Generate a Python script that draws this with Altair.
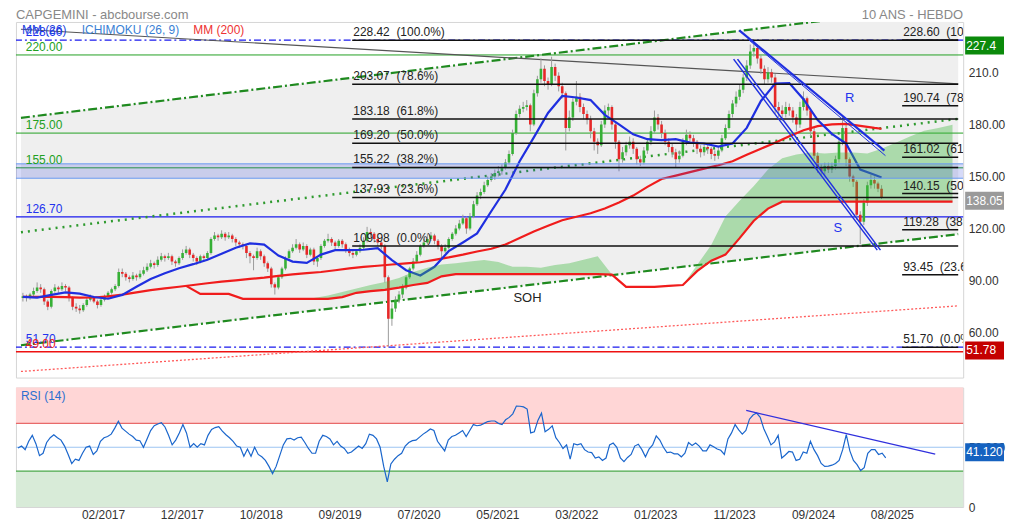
import json
import altair as alt
import pandas as pd

# ---------------- data ----------------
START = pd.Timestamp("2016-03-21")   # first bi-weekly candle
STEP_DAYS = 14

first_open = 80
close = [
    81, 80, 82, 84, 86, 85, 78, 75, 84, 86,
    85, 87, 86, 80, 75, 74, 73, 76, 79, 80,
    78, 76, 79, 81, 83, 85, 87, 95, 94, 92,
    91, 93, 92, 94, 96, 98, 100, 99, 102, 104,
    103, 104, 101, 100, 103, 106, 108, 105, 103, 101,
    104, 103, 106, 114, 116, 115, 117, 115, 116, 114,
    112, 111, 110, 106, 104, 103, 107, 104, 100, 97,
    88, 86, 92, 97, 103, 107, 109, 111, 108, 110,
    105, 108, 101, 103, 110, 113, 114, 112, 110, 113,
    111, 108, 106, 105, 107, 109, 113, 118, 117, 114,
    112, 110, 92, 68, 74, 79, 82, 86, 92, 97,
    101, 105, 110, 112, 114, 116, 113, 110, 107, 109,
    114, 117, 120, 123, 126, 120, 127, 134, 139, 141,
    145, 148, 150, 152, 153, 155, 158, 163, 175, 186,
    189, 190, 191, 180, 198, 206, 212, 205, 203, 213,
    208, 202, 198, 178, 184, 193, 196, 190, 186, 183,
    176, 170, 168, 180, 188, 190, 180, 170, 160, 164,
    168, 170, 166, 160, 158, 165, 170, 176, 184, 180,
    175, 170, 167, 164, 160, 162, 170, 174, 172, 170,
    166, 164, 167, 166, 163, 162, 165, 172, 178, 186,
    192, 196, 200, 207, 214, 222, 224, 218, 212, 206,
    210, 207, 190, 188, 186, 190, 188, 184, 180, 190,
    195, 188, 176, 162, 155, 153, 156, 154, 156, 160,
    170, 178, 160, 150, 147, 128, 124, 135, 145, 148,
    146, 143, 138.05,
]
high = [
    83, 82, 83, 86, 89, 88, 86, 79, 85, 88,
    87, 89, 88, 87, 81, 77, 76, 77, 80, 82,
    81, 79, 80, 82, 84, 86, 88, 97, 97, 95,
    93, 95, 94, 96, 98, 100, 102, 101, 104, 106,
    105, 106, 105, 102, 104, 108, 110, 109, 106, 104,
    105, 105, 107, 115, 118, 117, 119, 118, 118, 117,
    115, 113, 112, 111, 107, 105, 109, 108, 105, 101,
    98, 89, 93, 98, 104, 108, 111, 114, 112, 112,
    111, 109, 109, 104, 111, 114, 117, 115, 113, 114,
    114, 112, 109, 107, 108, 111, 115, 121, 120, 118,
    115, 113, 111, 93, 77, 81, 84, 88, 93, 98,
    103, 107, 111, 114, 117, 118, 117, 114, 111, 111,
    115, 118, 122, 125, 128, 127, 129, 136, 141, 143,
    147, 150, 152, 154, 156, 157, 160, 165, 177, 188,
    191, 193, 194, 192, 200, 208, 218, 214, 207, 219,
    215, 210, 204, 199, 188, 195, 205, 198, 192, 188,
    185, 178, 172, 182, 191, 192, 191, 182, 171, 167,
    170, 173, 172, 167, 162, 167, 172, 179, 188, 186,
    182, 177, 172, 169, 166, 165, 172, 177, 176, 174,
    171, 168, 169, 169, 167, 165, 167, 174, 180, 188,
    194, 199, 203, 209, 217, 226, 229, 226, 220, 214,
    213, 212, 209, 193, 191, 193, 192, 190, 186, 193,
    199, 196, 189, 178, 164, 157, 158, 158, 158, 162,
    172, 185, 180, 161, 151, 148, 130, 137, 147, 151,
    150, 147, 145,
]
low = [
    78, 78, 79, 81, 83, 83, 76, 73, 74, 83,
    83, 84, 84, 78, 73, 72, 71, 72, 75, 78,
    77, 74, 75, 78, 80, 82, 84, 86, 92, 90,
    89, 90, 90, 91, 93, 95, 97, 97, 98, 101,
    101, 102, 99, 98, 99, 102, 105, 103, 101, 99,
    100, 101, 102, 105, 113, 113, 114, 113, 114, 112,
    110, 109, 108, 103, 100, 96, 102, 102, 98, 95,
    86, 82, 85, 91, 96, 102, 106, 108, 106, 107,
    103, 104, 99, 98, 102, 109, 112, 110, 108, 109,
    109, 106, 104, 103, 104, 106, 108, 112, 115, 112,
    110, 108, 89, 52, 64, 72, 77, 80, 85, 91,
    96, 100, 104, 109, 111, 113, 111, 108, 102, 106,
    108, 113, 116, 119, 122, 117, 119, 126, 133, 137,
    140, 144, 147, 148, 150, 151, 154, 157, 162, 174,
    184, 187, 188, 176, 179, 196, 204, 202, 200, 202,
    205, 199, 195, 165, 176, 182, 191, 187, 183, 180,
    172, 165, 163, 167, 178, 185, 177, 166, 153, 158,
    162, 166, 163, 157, 156, 157, 163, 168, 175, 177,
    172, 168, 164, 161, 155, 158, 161, 168, 169, 167,
    163, 161, 162, 163, 160, 159, 160, 164, 171, 177,
    184, 190, 194, 198, 205, 212, 219, 215, 209, 203,
    204, 204, 186, 184, 182, 184, 185, 181, 176, 178,
    188, 185, 173, 160, 152, 150, 151, 152, 152, 154,
    158, 168, 156, 147, 144, 125, 111, 122, 133, 143,
    143, 141, 137,
]
rsi = [
    49.4, 51, 48, 55, 60, 53, 43, 45, 54, 58,
    60.5, 58, 56, 51, 44, 36.4, 40, 39, 45, 50,
    51, 44, 47, 55, 58, 59, 61, 66, 71.7, 66,
    63.5, 61, 59, 56, 55.5, 50, 57, 64, 68, 69.5,
    70.5, 67, 60, 52, 56, 62, 69, 62, 50, 53,
    50, 53, 52, 60, 65, 66.5, 67.3, 63.5, 60.5, 58,
    55, 51, 50, 42.5, 48.5, 42.5, 50, 44, 42, 39,
    34, 28, 34, 43, 52, 57, 57.5, 56, 58, 58.5,
    54, 49, 45, 45, 55, 60, 59, 57, 52, 55,
    51, 49, 45, 46, 48.5, 51, 49, 53, 61, 60,
    57, 50, 34, 21, 36, 40, 43, 45, 51, 54,
    55.5, 56, 58.5, 61, 63, 65.3, 64, 55, 51, 47,
    56, 59, 60, 62, 64, 59, 64, 69, 68, 68.5,
    70, 71.5, 72, 72, 70, 69, 73, 75, 78, 84.5,
    84.3, 83.8, 82, 62, 63, 72.5, 78.5, 63, 65, 68,
    58, 54, 49, 52, 40, 53, 52, 53, 48, 46,
    45.5, 41, 42, 39, 41, 52, 53.5, 50, 41, 38,
    41.5, 44, 51, 52.5, 48, 42, 48.5, 52, 59.5, 56,
    50, 45.5, 46, 44.5, 44.5, 42, 45, 54, 51.5, 53.5,
    51, 47, 47, 52, 50.5, 48.5, 47.5, 44, 57, 62,
    69, 64.5, 61, 64, 73.5, 77, 78.6, 75, 65.5, 59,
    52, 54.5, 60, 41, 43.5, 46.5, 46, 39, 40, 46,
    45, 55, 48, 43, 36.5, 34, 34.2, 35, 36.4, 39,
    48, 60.5, 47, 39, 35.5, 30.5, 33, 45, 48, 48,
    44, 45, 41.12,
]
# moving averages, sampled every 4th candle (+ last candle)
mm_idx = list(range(0, 241, 4)) + [242]
mm26 = [
    80.7, 80.2, 81.8, 83.2, 82.5, 80.6, 79.6, 81.8, 86.5, 91,
    94.3, 97.2, 99.5, 102, 105.5, 109, 111.5, 110.8, 104.5, 101,
    100.2, 105, 107.6, 107.6, 107.8, 108.7, 101.8, 96, 93, 98,
    107, 112, 117.2, 130, 142.5, 158.8, 172.5, 186.6, 196.4, 195.5,
    194, 185.5, 180, 174.3, 171.5, 171, 171.5, 169.5, 169, 167.2,
    169, 178, 193.5, 203.5, 203.8, 194.5, 182.5, 174.6, 169, 154,
    151, 149.4,
]
mm200 = [
    80.7, 80.7, 80.7, 80.5, 80.2, 80.3, 81, 82, 83.3, 84.6,
    85.6, 86.5, 87.5, 88.5, 89.5, 90.2, 91, 91.8, 92.8, 93.6,
    94.3, 95, 96, 97.1, 97.9, 98.6, 99.3, 100, 100.6, 102,
    103.4, 105, 106.8, 108.4, 110.8, 114.6, 118.3, 121.6, 124.8, 126.8,
    128.8, 131.6, 135, 139, 144, 148.6, 150.5, 152.5, 154.5, 156.5,
    158.8, 162.5, 166, 169.5, 173.2, 176.6, 179, 180, 180.3, 179.2,
    178, 177.5,
]
# Ichimoku cloud, sampled every 4th period from candle 46 (projected forward)
cloud_idx = list(range(46, 263, 4))
ssa = [
    87, 82.4, 82.4, 82.4, 79.5, 79.5, 79.5, 79.5, 79.5, 80,
    81.5, 83.5, 85.5, 87.5, 89.3, 91.5, 95, 97.5, 99.3, 100,
    101, 101.9, 100.8, 98, 98, 97.5, 99, 100, 102, 104,
    93.5, 86.4, 86.4, 86.4, 87, 87.5, 99, 110.5, 127, 136,
    144.5, 154, 160.5, 162.6, 163.8, 163.3, 163.8, 163.8, 163.3, 166,
    169.5, 173, 176.4, 178, 179.8,
]
ssb = [
    87, 82.4, 82.4, 82.4, 79.5, 79.5, 79.5, 79.5, 79.5, 79.5,
    79.5, 80.5, 83, 84, 84.7, 86, 87.5, 88.7, 92.5, 93.8,
    93.8, 93.8, 93.8, 93.8, 93.8, 93.8, 93.8, 93.8, 93.8, 93.8,
    93.5, 86.4, 86.4, 86.4, 87, 87.5, 95.5, 101.5, 105, 114.5,
    124.5, 131.5, 135.5, 135.5, 135.5, 135.5, 135.5, 135.5, 135.5, 135.5,
    135.5, 135.5, 135.5, 135.5, 135.5,
]

fib1_levels = [228.42, 203.07, 183.18, 169.20, 155.22, 137.93, 109.98]
fib2_levels = [228.60, 190.74, 161.02, 140.15, 119.28, 93.45, 51.70]
fib_pcts = ["100.0%", "78.6%", "61.8%", "50.0%", "38.2%", "23.6%", "0.0%"]
fib1_start, fib2_start = 92.8, 247.8          # in candle periods

green_levels = [220.00, 175.00, 155.00]
blue_level = 126.70
blue_dash_levels = [228.60, 51.70]
red_level = 49.00
band = (149.0, 157.3)

# trend lines: (period0, price0, period1, price1)
I_LO, I_HI = -0.556, 263.6
trend = {
    "chan_up": (I_LO, 183.8, I_HI, 249.1),
    "chan_low": (I_LO, 52.8, I_HI, 116.8),
    "mid_dot": (I_LO, 117.9, I_HI, 183.2),
    "red_dot": (I_LO, 37.7, I_HI, 75.5),
    "black": (I_LO, 234.8, I_HI, 203.3),
    "R_thick": (201.9, 234.2, 242.8, 164.9),
    "R_thin": (204.7, 228.5, 243.1, 162.0),
    "S_a": (200.3, 217.6, 240.8, 107.6),
    "S_b": (201.4, 217.6, 241.7, 107.6),
}
rsi_trend = (203.1, 80.8, 255.8, 44.2)

tick_labels = ["02/2017", "12/2017", "10/2018", "09/2019", "07/2020", "05/2021",
               "03/2022", "01/2023", "11/2023", "09/2024", "08/2025"]
price_ticks = [60, 90, 120, 150, 180, 210]
boxes = [(227.4, "227.4", "#0b8a0b"), (138.05, "138.05", "#9a9a9a"), (51.78, "51.78", "#c40000")]

# ---------------- helpers ----------------
def ts(i):
    return int((START + pd.Timedelta(days=STEP_DAYS * i)).value // 10**6)

FONT = "Liberation Sans"
W, H, HR = 951, 357, 120
BOXW = 41
xscale = alt.Scale(domain=[ts(I_LO), ts(I_HI)])
yscale = alt.Scale(domain=[34.2, 239.0], nice=False, zero=False)
rscale = alt.Scale(domain=[0, 100], nice=False, zero=False)

YAX = alt.Axis(orient="right", values=price_ticks, ticks=False, domain=False, grid=False,
               labelExpr="datum.value == 210 ? '210.0' : format(datum.value, '.2f')",
               labelFontSize=12, labelColor="#333", labelFont=FONT, labelPadding=5, title=None)

def X(f="t"):
    return alt.X(f"{f}:T", scale=xscale, axis=None)

def Y(f="p"):
    return alt.Y(f"{f}:Q", scale=yscale, axis=YAX)

def seg(name):
    i0, p0, i1, p1 = trend[name]
    return pd.DataFrame({"t": [ts(i0), ts(i1)], "p": [p0, p1]})

def line_layer(df, color, width, dash=None, opacity=1.0):
    kw = dict(color=color, strokeWidth=width, clip=True, opacity=opacity)
    if dash:
        kw["strokeDash"] = dash
    return alt.Chart(df).mark_line(**kw).encode(x=X(), y=Y())

# ---------------- main panel ----------------
n = len(close)
opens = [first_open] + close[:-1]
candles = pd.DataFrame({"t": [ts(i) for i in range(n)], "o": opens, "h": high, "l": low, "c": close})

cu, cl = seg("chan_up"), seg("chan_low")
chan_bg = pd.DataFrame({"t": cu["t"], "p": cu["p"], "p2": cl["p"]})
bg = alt.Chart(chan_bg).mark_area(color="#efefef", clip=True).encode(x=X(), y=Y(), y2="p2:Q")

rules_green = alt.Chart(pd.DataFrame({"p": green_levels})).mark_rule(color="#22a022", strokeWidth=1).encode(y=Y())
rule_blue = alt.Chart(pd.DataFrame({"p": [blue_level]})).mark_rule(color="#1a1aee", strokeWidth=1.2).encode(y=Y())
rules_bdash = alt.Chart(pd.DataFrame({"p": blue_dash_levels})).mark_rule(
    color="#1a1aee", strokeWidth=1.2, strokeDash=[7, 3, 2, 3]).encode(y=Y())
rule_red = alt.Chart(pd.DataFrame({"p": [red_level]})).mark_rule(color="#ee1111", strokeWidth=1.5).encode(y=Y())

trend_layers = [
    line_layer(cu, "#1f8a1f", 2.2, [9, 3, 2, 3]),
    line_layer(cl, "#1f8a1f", 2.2, [9, 3, 2, 3]),
    line_layer(seg("mid_dot"), "#2e9a2e", 2.5, [2, 5]),
    line_layer(seg("red_dot"), "#ff5a5a", 1.3, [2, 2]),
    line_layer(seg("black"), "#555555", 1.2),
]

wicks = alt.Chart(candles).mark_rule(color="#9a9a9a", strokeWidth=1, clip=True).encode(
    x=X(), y=Y("l"), y2="h:Q")
bodies = alt.Chart(candles).mark_bar(width=2.6, clip=True).encode(
    x=X(), y=Y("o"), y2="c:Q",
    color=alt.condition("datum.c >= datum.o", alt.value("#36b036"), alt.value("#e62828")))

mm_df = pd.DataFrame({"t": [ts(i) for i in mm_idx], "m26": mm26, "m200": mm200})
mm200_l = alt.Chart(mm_df).mark_line(color="#f01c1c", strokeWidth=2.2, clip=True).encode(x=X(), y=Y("m200"))
mm26_l = alt.Chart(mm_df).mark_line(color="#1f2fe0", strokeWidth=2.2, clip=True).encode(x=X(), y=Y("m26"))

cl_df = pd.DataFrame({"t": [ts(i) for i in cloud_idx], "a": ssa, "b": ssb})
cl_df["top"] = cl_df[["a", "b"]].max(axis=1)
cloud = alt.Chart(cl_df).mark_area(color="#3cb83c", opacity=0.38, clip=True).encode(
    x=X(), y=Y("top"), y2="b:Q")
ssb_l = alt.Chart(cl_df).mark_line(color="#f01c1c", strokeWidth=2.2, clip=True).encode(x=X(), y=Y("b"))

band_l = alt.Chart(pd.DataFrame({"p": [band[0]], "p2": [band[1]]})).mark_rect(
    color="#3344dd", opacity=0.2).encode(y=Y(), y2="p2:Q")
band_edges = alt.Chart(pd.DataFrame({"p": list(band)})).mark_rule(color="#6a9bf0", strokeWidth=1).encode(y=Y())

def fib_df(levels, start):
    return pd.DataFrame({"t": [ts(start)] * len(levels), "t2": [ts(I_HI)] * len(levels),
                         "p": levels,
                         "lab": [f"{v:.2f} \u00a0({pc})" for v, pc in zip(levels, fib_pcts)],
                         "tl": [ts(start + 0.3)] * len(levels)})

fib_layers = []
for lv, st in [(fib1_levels, fib1_start), (fib2_levels, fib2_start)]:
    d = fib_df(lv, st)
    fib_layers.append(alt.Chart(d).mark_rule(color="#111111", strokeWidth=1.5, clip=True).encode(
        x=X(), x2="t2:T", y=Y()))
    fib_layers.append(alt.Chart(d).mark_text(align="left", baseline="bottom", dy=-1, fontSize=12,
                                             font=FONT, color="#222222", clip=True).encode(
        x=X("tl"), y=Y(), text="lab:N"))

blue_lines = [
    line_layer(seg("R_thick"), "#1f2fe0", 2.2),
    line_layer(seg("R_thin"), "#1f2fe0", 1.0),
    line_layer(seg("S_a"), "#1f2fe0", 1.5),
    line_layer(seg("S_b"), "#1f2fe0", 1.5),
]

left_labels = pd.DataFrame({
    "t": [ts(0.8)] * 7,
    "p": [228.60, 220.00, 175.00, 155.00, 126.70, 51.70, 49.00],
    "lab": ["228.60", "220.00", "175.00", "155.00", "126.70", "51.70", "49.00"],
    "col": ["#2233ee", "#22a022", "#22a022", "#22a022", "#2233ee", "#2233ee", "#ee2222"],
})
left_txt = alt.Chart(left_labels).mark_text(align="left", baseline="bottom", dy=-1, fontSize=12,
                                            font=FONT).encode(
    x=X(), y=Y(), text="lab:N", color=alt.Color("col:N", scale=None))

notes = pd.DataFrame({"t": [ts(142.2), ts(233.0), ts(229.7)], "p": [80.1, 195.3, 120.2],
                      "lab": ["SOH", "R", "S"], "col": ["#222222", "#2233ee", "#2233ee"]})
notes_txt = alt.Chart(notes).mark_text(align="center", baseline="middle", fontSize=13, font=FONT).encode(
    x=X(), y=Y(), text="lab:N", color=alt.Color("col:N", scale=None))

legend = pd.DataFrame({"lab": ["MM (26)", "ICHIMOKU (26, 9)", "MM (200)"],
                       "px": [6, 66, 178], "col": ["#2244dd", "#3a7fd5", "#ee3333"]})
legend_txt = alt.Chart(legend).mark_text(align="left", baseline="middle", fontSize=12, font=FONT).encode(
    x=alt.X("px:Q", scale=None), y=alt.value(8), text="lab:N", color=alt.Color("col:N", scale=None))

titles = alt.Chart(pd.DataFrame({"lab": ["CAPGEMINI - abcbourse.com"]})).mark_text(
    align="left", baseline="middle", fontSize=13, font=FONT, color="#888888").encode(
    x=alt.value(0), y=alt.value(-6.5), text="lab:N")
titles_r = alt.Chart(pd.DataFrame({"lab": ["10 ANS - HEBDO"]})).mark_text(
    align="right", baseline="middle", fontSize=13, font=FONT, color="#888888").encode(
    x=alt.value(W), y=alt.value(-6.5), text="lab:N")

box_df = pd.DataFrame({"p": [b[0] for b in boxes], "lab": [b[1] for b in boxes], "col": [b[2] for b in boxes]})
box_df["pc"] = box_df["p"] - 2.0
box_df["y1"] = box_df["pc"] + 5.2
box_df["y0"] = box_df["pc"] - 5.2
box_r = alt.Chart(box_df).mark_rect().encode(
    x=alt.value(W + 2), x2=alt.value(W + BOXW), y=Y("y1"), y2="y0:Q", color=alt.Color("col:N", scale=None))
box_t = alt.Chart(box_df).mark_text(align="left", baseline="middle", fontSize=12, font=FONT, color="white").encode(
    x=alt.value(W + 3), y=Y("pc"), text="lab:N")

main = alt.layer(
    bg, rules_green, rule_blue, rules_bdash, rule_red, *trend_layers,
    wicks, bodies, mm200_l, mm26_l, cloud, ssb_l, band_l, band_edges,
    *fib_layers, *blue_lines, left_txt, notes_txt, legend_txt, titles, titles_r, box_r, box_t,
).properties(width=W, height=H)

# ---------------- RSI panel ----------------
T0 = int((START + pd.Timedelta(days=332)).value // 10**6)
TSTEP = 308 * 86400000
tick_vals = [T0 + k * TSTEP for k in range(len(tick_labels))]
XAX = alt.Axis(values=tick_vals, labelExpr=f"{json.dumps(tick_labels)}[round((datum.value - {T0}) / {TSTEP})]",
               ticks=False, domain=False, grid=False, labelFontSize=12, labelColor="#333",
               labelFont=FONT, labelPadding=3, title=None, labelFlush=False)
RAX = alt.Axis(orient="right", values=[0, 50], labelExpr="datum.value == 50 ? '50.000' : '0'",
               ticks=False, domain=False, grid=False, labelFontSize=12, labelColor="#333",
               labelFont=FONT, labelPadding=5, title=None)

def RY(f="r"):
    return alt.Y(f"{f}:Q", scale=rscale, axis=RAX)

zones = pd.DataFrame({"r": [70, 0], "r2": [100, 30], "col": ["#ffd6d6", "#d8ebd8"]})
zone_l = alt.Chart(zones).mark_rect().encode(y=RY(), y2="r2:Q", color=alt.Color("col:N", scale=None))
lv = pd.DataFrame({"r": [70, 30, 50], "col": ["#e86a6a", "#4aa84a", "#9cc4f2"]})
lv_l = alt.Chart(lv).mark_rule(strokeWidth=1.2).encode(y=RY(), color=alt.Color("col:N", scale=None))
rsi_df = pd.DataFrame({"t": [ts(i) for i in range(n)], "r": rsi})
rsi_line = alt.Chart(rsi_df).mark_line(color="#1a66cc", strokeWidth=1.2, clip=True).encode(
    x=alt.X("t:T", scale=xscale, axis=XAX), y=RY())
rt = pd.DataFrame({"t": [ts(rsi_trend[0]), ts(rsi_trend[2])], "r": [rsi_trend[1], rsi_trend[3]]})
rsi_tr = alt.Chart(rt).mark_line(color="#3030dd", strokeWidth=1.3, clip=True).encode(
    x=alt.X("t:T", scale=xscale, axis=XAX), y=RY())
rsi_title = alt.Chart(pd.DataFrame({"lab": ["RSI (14)"]})).mark_text(
    align="left", baseline="middle", fontSize=12, font=FONT, color="#2a6fd0").encode(
    x=alt.value(5), y=alt.value(9), text="lab:N")
rbox = pd.DataFrame({"r": [41.12], "lab": ["41.120"]})
rbox["rc"] = rbox["r"] + 4.7
rbox["r1"] = rbox["rc"] + 7.5
rbox["r0"] = rbox["rc"] - 7.5
rbox_r = alt.Chart(rbox).mark_rect(color="#1562c0").encode(
    x=alt.value(W + 2), x2=alt.value(W + BOXW), y=RY("r1"), y2="r0:Q")
rbox_t = alt.Chart(rbox).mark_text(align="left", baseline="middle", fontSize=12, font=FONT, color="white").encode(
    x=alt.value(W + 3), y=RY("rc"), text="lab:N")

rsi_panel = alt.layer(zone_l, lv_l, rsi_line, rsi_tr, rsi_title, rbox_r, rbox_t).properties(width=W, height=HR)

chart = alt.vconcat(main, rsi_panel, spacing=8).properties(
    padding={"left": 6, "top": 0, "right": 0, "bottom": 0}, background="white"
).configure_view(stroke="#d6d6d6")

chart.save("out.html", embed_options={"renderer": "svg", "actions": False})
